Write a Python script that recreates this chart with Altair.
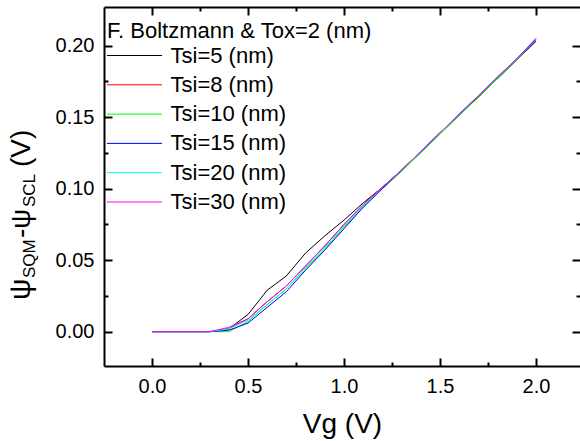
import altair as alt
import pandas as pd

# ---------------- data ----------------
vg = [0.0, 0.1, 0.2, 0.3, 0.4, 0.5, 0.6, 0.7, 0.8, 0.9, 1.0,
      1.1, 1.2, 1.3, 1.4, 1.5, 1.6, 1.7, 1.8, 1.9, 2.0]

series_names = ["Tsi=5 (nm)", "Tsi=8 (nm)", "Tsi=10 (nm)",
                "Tsi=15 (nm)", "Tsi=20 (nm)", "Tsi=30 (nm)"]
series_colors = ["#000000", "#ff0000", "#00ff00", "#0000ff", "#00ffff", "#ff00ff"]

tsi5 = [0, 0, 0, 0, 0.002, 0.012, 0.029, 0.039, 0.055, 0.067, 0.078,
        0.090, 0.101, 0.113, 0.126, 0.139, 0.152, 0.164, 0.177, 0.190, 0.203]
tsi8 = [0, 0, 0, 0, 0.002, 0.009, 0.021, 0.032, 0.046, 0.060, 0.075,
        0.088, 0.101, 0.113, 0.126, 0.139, 0.152, 0.165, 0.178, 0.191, 0.204]
tsi10 = [0, 0, 0, 0, 0.000, 0.007, 0.019, 0.030, 0.044, 0.058, 0.073,
         0.087, 0.100, 0.112, 0.125, 0.138, 0.151, 0.164, 0.177, 0.190, 0.204]
tsi15 = [0, 0, 0, 0, 0.001, 0.006, 0.017, 0.028, 0.043, 0.057, 0.072,
         0.087, 0.100, 0.113, 0.126, 0.139, 0.152, 0.165, 0.178, 0.191, 0.205]
tsi20 = [0, 0, 0, 0, 0.002, 0.008, 0.019, 0.030, 0.045, 0.059, 0.074,
         0.088, 0.101, 0.113, 0.126, 0.139, 0.152, 0.165, 0.178, 0.191, 0.204]
tsi30 = [0, 0, 0, 0, 0.003, 0.009, 0.021, 0.032, 0.046, 0.060, 0.075,
         0.089, 0.101, 0.113, 0.126, 0.139, 0.152, 0.165, 0.178, 0.191, 0.204]

x_major = [0.0, 0.5, 1.0, 1.5, 2.0]
x_minor = [0.25, 0.75, 1.25, 1.75]
y_major = [0.0, 0.05, 0.10, 0.15, 0.20]
y_minor = [0.025, 0.075, 0.125, 0.175]

legend_title = "F. Boltzmann & Tox=2 (nm)"
x_title = "Vg (V)"

rows = []
for name, vals in zip(series_names, [tsi5, tsi8, tsi10, tsi15, tsi20, tsi30]):
    for xv, yv in zip(vg, vals):
        rows.append({"Vg": xv, "dpsi": yv, "series": name})
df = pd.DataFrame(rows)

# ---------------- layout ----------------
W, H = 476, 359
FONT = "Liberation Sans"

xs = alt.Scale(domain=[-0.25, 2.229], nice=False, zero=False)
ys = alt.Scale(domain=[-0.024, 0.227], nice=False, zero=False)

lines = alt.Chart(df).mark_line(strokeWidth=1, clip=True).encode(
    x=alt.X("Vg:Q", scale=xs, axis=alt.Axis(
        orient="bottom", values=x_major, format=".1f", ticks=False, grid=False,
        domain=True, domainColor="black", domainWidth=2,
        labelFont=FONT, labelFontSize=20, labelColor="black", labelPadding=10,
        title=x_title, titleFont=FONT, titleFontSize=28, titleFontWeight="normal",
        titleColor="black", titlePadding=14)),
    y=alt.Y("dpsi:Q", scale=ys, axis=alt.Axis(
        orient="left", values=y_major, format=".2f", ticks=False, grid=False,
        domain=True, domainColor="black", domainWidth=2,
        labelFont=FONT, labelFontSize=20, labelColor="black", labelPadding=10,
        title=None)),
    color=alt.Color("series:N", sort=series_names,
                    scale=alt.Scale(domain=series_names, range=series_colors),
                    legend=alt.Legend(
                        title=legend_title, orient="none", legendX=3, legendY=14,
                        padding=0, titleFont=FONT, titleFontSize=22,
                        titleFontWeight="normal", titleColor="black",
                        titlePadding=1.5, titleLimit=0, titleAnchor="start",
                        labelFont=FONT, labelFontSize=22, labelColor="black",
                        labelLimit=0, labelOffset=25,
                        symbolType="M-2.75,0L2.75,0", symbolSize=400,
                        symbolStrokeWidth=1, symbolOffset=16.5, rowPadding=7.3)),
)


def tick_layer(x_orient, x_off, y_orient, y_off, xvals, yvals, size, x_dom, y_dom):
    return alt.Chart(df).mark_point(opacity=0).encode(
        x=alt.X("Vg:Q", scale=xs, axis=alt.Axis(
            orient=x_orient, offset=x_off, values=xvals, labels=False, grid=False,
            ticks=True, tickSize=size, tickWidth=2, tickColor="black",
            domain=x_dom, domainWidth=2, domainColor="black", title=None)),
        y=alt.Y("dpsi:Q", scale=ys, axis=alt.Axis(
            orient=y_orient, offset=y_off, values=yvals, labels=False, grid=False,
            ticks=True, tickSize=size, tickWidth=2, tickColor="black",
            domain=y_dom, domainWidth=2, domainColor="black", title=None)),
    )


# bottom + left inward ticks
t1 = tick_layer("top", -H, "right", -W, x_major, y_major, 8, False, False)
t2 = tick_layer("top", -H, "right", -W, x_minor, y_minor, 4, False, False)
# top + right inward ticks (top frame line included)
t3 = tick_layer("bottom", -H, "left", -W, x_major, y_major, 8, True, False)
t4 = tick_layer("bottom", -H, "left", -W, x_minor, y_minor, 4, False, False)


def ttext(txt, size, px, py):
    return alt.Chart(pd.DataFrame({"k": [0]})).mark_text(
        text=txt, angle=270, align="left", baseline="alphabetic",
        font=FONT, fontSize=size, color="black").encode(
        x=alt.value(px), y=alt.value(py))


ytitle = [
    ttext("ψ", 30, -74, 293),
    ttext("SQM", 17, -69, 271),
    ttext("-ψ", 28, -74, 231),
    ttext("SCL", 17, -69, 200),
    ttext("(V)", 28, -74, 160),
]

chart = alt.layer(lines, t1, t2, t3, t4, *ytitle).resolve_axis(
    x="independent", y="independent"
).properties(
    width=W, height=H,
    autosize=alt.AutoSizeParams(type="none"),
    padding={"left": 104, "top": 7, "right": 0, "bottom": 75},
).configure(font=FONT).configure_view(stroke=None)

chart.save("out.html", embed_options={"renderer": "svg", "actions": False})
